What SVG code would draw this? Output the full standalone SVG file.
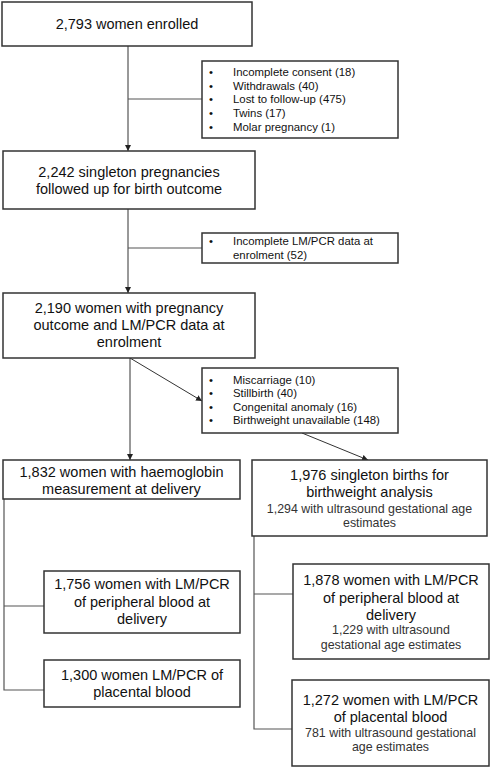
<svg xmlns="http://www.w3.org/2000/svg" width="491" height="768" viewBox="0 0 491 768">
<defs>
<marker id="arr" viewBox="0 0 10 10" refX="10" refY="5" markerWidth="6" markerHeight="6" markerUnits="userSpaceOnUse" orient="auto">
<path d="M0,0 L10,5 L0,10 z" fill="#222"/>
</marker>
</defs>
<style>
.box{fill:#fff;stroke:#333;stroke-width:1.5}
.t{font-family:"Liberation Sans",Arial,sans-serif;font-size:14.5px;fill:#111;text-anchor:middle}
.s{font-family:"Liberation Sans",Arial,sans-serif;font-size:12.4px;fill:#333;text-anchor:middle}
.b{font-family:"Liberation Sans",Arial,sans-serif;font-size:11.4px;fill:#111}
.c{fill:none;stroke:#555;stroke-width:1.2}
.ca{fill:none;stroke:#333;stroke-width:1;marker-end:url(#arr)}
</style>
<rect width="491" height="768" fill="#fff"/>
<g id="connectors">
<line class="ca" x1="128" y1="46" x2="128" y2="151"/>
<line class="c" x1="128" y1="99" x2="202" y2="99"/>
<line class="ca" x1="128" y1="209" x2="128" y2="293"/>
<line class="c" x1="128" y1="248" x2="202" y2="248"/>
<line class="ca" x1="130" y1="358" x2="130" y2="460"/>
<line class="ca" x1="130" y1="358" x2="202" y2="401"/>
<line class="ca" x1="302" y1="433" x2="368" y2="460"/>
<polyline class="c" points="4,499 4,690 44,690"/>
<line class="c" x1="4" y1="606" x2="44" y2="606"/>
<polyline class="c" points="254,536 254,729 292,729"/>
<line class="c" x1="254" y1="594" x2="293" y2="594"/>
</g>
<g id="n1">
<rect class="box" x="2" y="2" width="250" height="44"/>
<text class="t" x="127" y="29">2,793 women enrolled</text>
</g>
<g id="ex1">
<rect class="box" x="202" y="61" width="196" height="77"/>
<text class="b"><tspan x="209" y="76">•</tspan><tspan x="233" y="76">Incomplete consent (18)</tspan>
<tspan x="209" y="89.7">•</tspan><tspan x="233" y="89.7">Withdrawals (40)</tspan>
<tspan x="209" y="103.4">•</tspan><tspan x="233" y="103.4">Lost to follow-up (475)</tspan>
<tspan x="209" y="117.1">•</tspan><tspan x="233" y="117.1">Twins (17)</tspan>
<tspan x="209" y="130.8">•</tspan><tspan x="233" y="130.8">Molar pregnancy (1)</tspan></text>
</g>
<g id="n2">
<rect class="box" x="3" y="151" width="252" height="58"/>
<text class="t"><tspan x="129" y="177">2,242 singleton pregnancies</tspan><tspan x="129" y="194">followed up for birth outcome</tspan></text>
</g>
<g id="ex2">
<rect class="box" x="202" y="233" width="196" height="30"/>
<text class="b"><tspan x="209" y="245">•</tspan><tspan x="233" y="245">Incomplete LM/PCR data at</tspan><tspan x="233" y="258.5">enrolment (52)</tspan></text>
</g>
<g id="n3">
<rect class="box" x="3" y="293" width="252" height="65"/>
<text class="t"><tspan x="129" y="313">2,190 women with pregnancy</tspan><tspan x="129" y="330">outcome and LM/PCR data at</tspan><tspan x="129" y="347">enrolment</tspan></text>
</g>
<g id="ex3">
<rect class="box" x="202" y="368" width="196" height="65"/>
<text class="b"><tspan x="209" y="383.5">•</tspan><tspan x="233" y="383.5">Miscarriage (10)</tspan>
<tspan x="209" y="397">•</tspan><tspan x="233" y="397">Stillbirth (40)</tspan>
<tspan x="209" y="410.6">•</tspan><tspan x="233" y="410.6">Congenital anomaly (16)</tspan>
<tspan x="209" y="424.2">•</tspan><tspan x="233" y="424.2">Birthweight unavailable (148)</tspan></text>
</g>
<g id="n4">
<rect class="box" x="3" y="460" width="237" height="39"/>
<text class="t"><tspan x="121.5" y="477">1,832 women with haemoglobin</tspan><tspan x="121.5" y="494">measurement at delivery</tspan></text>
</g>
<g id="n5">
<rect class="box" x="252" y="460" width="235" height="76"/>
<text class="t"><tspan x="369.5" y="480">1,976 singleton births for</tspan><tspan x="369.5" y="497">birthweight analysis</tspan></text>
<text class="s"><tspan x="369.5" y="513">1,294 with ultrasound gestational age</tspan><tspan x="369.5" y="527">estimates</tspan></text>
</g>
<g id="n6">
<rect class="box" x="44" y="571" width="196" height="62"/>
<text class="t"><tspan x="142" y="589">1,756 women with LM/PCR</tspan><tspan x="142" y="607">of peripheral blood at</tspan><tspan x="142" y="624">delivery</tspan></text>
</g>
<g id="n7">
<rect class="box" x="44" y="660" width="196" height="47"/>
<text class="t"><tspan x="142" y="680">1,300 women LM/PCR of</tspan><tspan x="142" y="697">placental blood</tspan></text>
</g>
<g id="n8">
<rect class="box" x="293" y="564" width="196" height="95"/>
<text class="t"><tspan x="391" y="585">1,878 women with LM/PCR</tspan><tspan x="391" y="603">of peripheral blood at</tspan><tspan x="391" y="620">delivery</tspan></text>
<text class="s"><tspan x="391" y="634">1,229 with ultrasound</tspan><tspan x="391" y="649">gestational age estimates</tspan></text>
</g>
<g id="n9">
<rect class="box" x="292" y="680" width="197" height="86"/>
<text class="t"><tspan x="390.5" y="705">1,272 women with LM/PCR</tspan><tspan x="390.5" y="722">of placental blood</tspan></text>
<text class="s"><tspan x="390.5" y="737">781 with ultrasound gestational</tspan><tspan x="390.5" y="751">age estimates</tspan></text>
</g>
</svg>
